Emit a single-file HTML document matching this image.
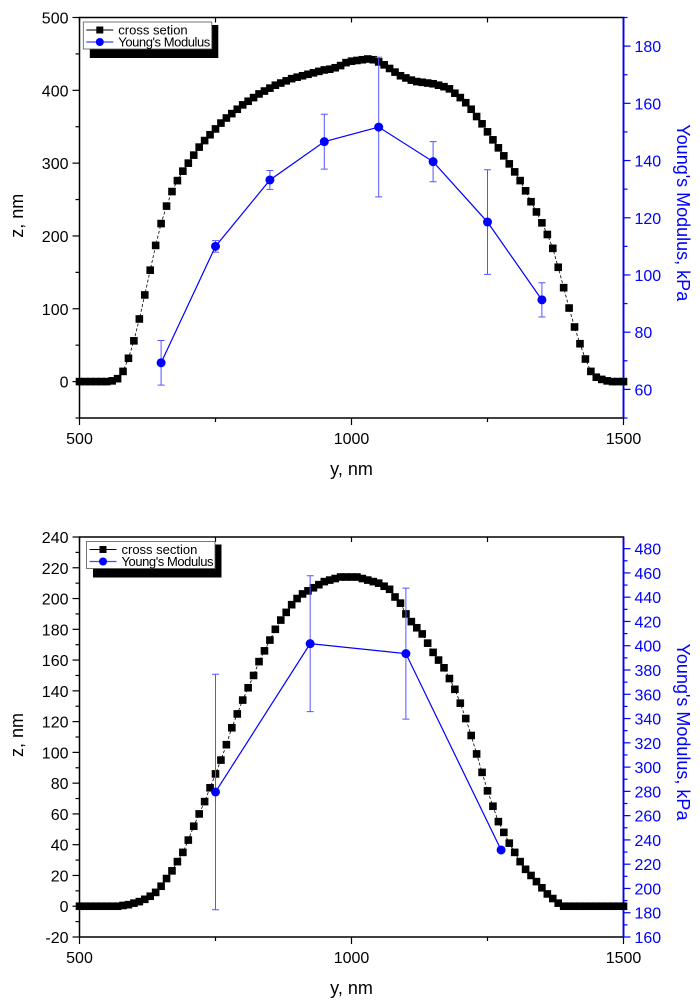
<!DOCTYPE html>
<html><head><meta charset="utf-8"><style>
html,body{margin:0;padding:0;background:#fff;}
svg{display:block;font-family:"Liberation Sans",Arial,sans-serif;}
</style></head><body>
<svg id="c" width="700" height="1000" viewBox="0 0 700 1000" xmlns="http://www.w3.org/2000/svg"></svg>
<script>
// ---- data: top chart ----
const topCsX = [];
for (let i = 0; i <= 100; i++) topCsX.push(500 + 10 * i);
const topCsZ = [0,0,0,0,0,0,1,4,14,32,56,86,119,153,187,217,241,261,276,289,300,311,322,331,339,347,355,362,368,374,380,385,390,395,399,403,407,410,413,416,418,420,422,424,426,428,429,431,434,438,440,441,442,443,442,439,435,430,425,420,417,414,412,411,410,409,407,405,402,396,390,383,374,364,354,343,332,321,310,299,288,276,262,247,233,218,202,183,157,129,101,75,52,31,14,6,3,1,0,0,0];
const topYmX = [650,750,850,950,1050,1150,1250,1350];
const topYmV = [69.3,110,133.2,146.6,151.7,139.6,118.5,91.3];
const topYmErr = [7.8,2,3.3,9.6,24.4,7,18.3,6];
// ---- data: bottom chart ----
const botCsX = topCsX;
const botCsZ = [0,0,0,0,0,0,0,0,0.5,1,2,3,4.5,6.5,9,13,18,23,29,35,43,52,60,68,77,86,95,105,116,125,134,142,150,159,166,173,180,186,191,196,200,203,205,207,209,211,212,213,214,214,214,214,213,212,211,210,208,206,201,197,190,185,181,177,171,165,160,155,148,141,132,122,111,99,87,75,65,55,48,41,35,29,24,20,16,12,8,5,2,0,0,0,0,0,0,0,0,0,0,0,0];
const botYmX = [750,924,1100,1275];
const botYmV = [279.5,401.7,393.5,231.7];
const botYmErr = [97,56,54,0];
// ---- ticks ----
const xTicks = [500,1000,1500];
const topLeftTicks = [0,100,200,300,400,500];
const topRightTicks = [60,80,100,120,140,160,180];
const botLeftTicks = [-20,0,20,40,60,80,100,120,140,160,180,200,220,240];
const botRightTicks = [160,180,200,220,240,260,280,300,320,340,360,380,400,420,440,460,480];

const svg = document.getElementById('c');
const NS = 'http://www.w3.org/2000/svg';
function mk(tag, attrs, parent) {
  const e = document.createElementNS(NS, tag);
  for (const k in attrs) e.setAttribute(k, attrs[k]);
  (parent || svg).appendChild(e);
  return e;
}

function chart(o) {
  const g = mk('g', {});
  
  
  const L = 79.5, R = 623.5, T = o.top, B = o.bot;
  const sx = v => L + (v - 500) / 1000 * (R - L);
  const sy = v => B - (v - o.lmin) / (o.lmax - o.lmin) * (B - T);
  const sy2 = v => B - (v - o.rmin) / (o.rmax - o.rmin) * (B - T);
  const fr = mk('rect', {x: L, y: T, width: R - L, height: B - T, fill: 'none', stroke: '#000', 'stroke-width': 1.5}, g);
  
  
  for (let v = 500; v <= 1500; v += 250) {
    const major = (v % 500 === 0);
    mk('line', {x1: sx(v), x2: sx(v), y1: B, y2: B + (major ? 7 : 4), stroke: '#000', 'stroke-width': 1.2}, g);
    mk('line', {x1: sx(v), x2: sx(v), y1: T, y2: T + 5, stroke: '#000', 'stroke-width': 1.2}, g);
  }
  xTicks.forEach(v => {
    const t = mk('text', {x: sx(v), y: B + 26, 'font-size': 16, 'text-anchor': 'middle', fill: '#000'}, g);
    t.textContent = v;
    
    
  });
  for (let v = o.lmin; v <= o.lmax + 1e-9; v += o.lminor) {
    const major = o.lticks.indexOf(v) >= 0;
    mk('line', {x1: L, x2: L - (major ? 7 : 4), y1: sy(v), y2: sy(v), stroke: '#000', 'stroke-width': 1.2}, g);
  }
  o.lticks.forEach(v => {
    const t = mk('text', {x: L - 11, y: sy(v) + 6, 'font-size': 16, 'text-anchor': 'end', fill: '#000'}, g);
    t.textContent = v;
    
    
  });
  mk('line', {x1: R, x2: R, y1: T, y2: B, stroke: '#00f', 'stroke-width': 1.8}, g);
  for (let v = o.rmin; v <= o.rmax + 1e-9; v += o.rminor) {
    const major = o.rticks.indexOf(v) >= 0;
    mk('line', {x1: R, x2: R + (major ? 7 : 4), y1: sy2(v), y2: sy2(v), stroke: '#00f', 'stroke-width': 1.2}, g);
  }
  o.rticks.forEach(v => {
    const t = mk('text', {x: R + 11, y: sy2(v) + 6, 'font-size': 16, 'text-anchor': 'start', fill: '#00f'}, g);
    t.textContent = v;
    
    
  });
  const yl = mk('text', {x: 0, y: 0, 'font-size': 18, 'text-anchor': 'middle', fill: '#000', transform: `translate(23,${(T + B) / 2 - 2}) rotate(-90)`}, g);
  yl.textContent = 'z, nm';
  
  
  const xl = mk('text', {x: (L + R) / 2, y: B + 57, 'font-size': 18, 'text-anchor': 'middle', fill: '#000'}, g);
  xl.textContent = 'y, nm';
  
  
  const rl = mk('text', {x: 0, y: 0, 'font-size': 18, 'text-anchor': 'middle', fill: '#00f', transform: `translate(677,${(T + B) / 2 - 5}) rotate(90)`}, g);
  rl.textContent = "Young's Modulus, kPa";
  
  
  const pts = o.csX.map((x, i) => sx(x) + ',' + sy(o.csZ[i])).join(' ');
  const cl = mk('polyline', {points: pts, fill: 'none', stroke: '#000', 'stroke-width': 0.8, 'stroke-dasharray': '3,2'}, g);
  
  
  o.csX.forEach((x, i) => {
    const r = mk('rect', {x: sx(x) - 3.8, y: sy(o.csZ[i]) - 3.8, width: 7.6, height: 7.6, fill: '#000'}, g);
    
    
  });
  o.ymX.forEach((x, i) => {
    if (o.ymE[i] > 0) {
      const y1 = sy2(o.ymV[i] - o.ymE[i]), y2 = sy2(o.ymV[i] + o.ymE[i]);
      const eb = mk('path', {d: `M${sx(x)},${y1}V${y2}M${sx(x) - 3.5},${y1}h7M${sx(x) - 3.5},${y2}h7`, stroke: '#55f', 'stroke-width': 1, fill: 'none'}, g);
      
      
    }
  });
  const yp = o.ymX.map((x, i) => sx(x) + ',' + sy2(o.ymV[i])).join(' ');
  const yline = mk('polyline', {points: yp, fill: 'none', stroke: '#00f', 'stroke-width': 1.2}, g);
  
  
  o.ymX.forEach((x, i) => {
    const c = mk('circle', {cx: sx(x), cy: sy2(o.ymV[i]), r: 4.5, fill: '#00f'}, g);
    
    
  });
  const lg = mk('g', {}, g);
  
  
  const lx = o.legX, ly = T + 4.5;
  mk('rect', {x: lx + 6.5, y: ly + 3, width: 128.5, height: 33, fill: '#000'}, lg);
  mk('rect', {x: lx, y: ly, width: 128.5, height: 27, fill: '#fff', stroke: '#555', 'stroke-width': 0.8}, lg);
  mk('line', {x1: lx + 3, x2: lx + 30, y1: ly + 8, y2: ly + 8, stroke: '#000', 'stroke-width': 1}, lg);
  mk('rect', {x: lx + 13, y: ly + 4.5, width: 7, height: 7, fill: '#000'}, lg);
  const t1 = mk('text', {x: lx + 35, y: ly + 12.5, 'font-size': 13, fill: '#000'}, lg);
  t1.textContent = o.csLabel;
  
  
  mk('line', {x1: lx + 3, x2: lx + 30, y1: ly + 20, y2: ly + 20, stroke: '#44f', 'stroke-width': 1.3}, lg);
  mk('circle', {cx: lx + 16.5, cy: ly + 20, r: 4, fill: '#00f'}, lg);
  const t2 = mk('text', {x: lx + 35, y: ly + 24.5, 'font-size': 13, fill: '#000', textLength: 92}, lg);
  t2.textContent = "Young's Modulus";
  
  
}

chart({name: 'top-chart', top: 17.5, bot: 418, lmin: -50, lmax: 500, lminor: 50, lticks: topLeftTicks,
  rmin: 50, rmax: 190, rminor: 10, rticks: topRightTicks,
  csX: topCsX, csZ: topCsZ, ymX: topYmX, ymV: topYmV, ymE: topYmErr, legX: 83.3, csLabel: 'cross setion'});
chart({name: 'bottom-chart', top: 537, bot: 937, lmin: -20, lmax: 240, lminor: 10, lticks: botLeftTicks,
  rmin: 160, rmax: 489.6, rminor: 10, rticks: botRightTicks,
  csX: botCsX, csZ: botCsZ, ymX: botYmX, ymV: botYmV, ymE: botYmErr, legX: 86.5, csLabel: 'cross section'});
</script>
</body></html>
